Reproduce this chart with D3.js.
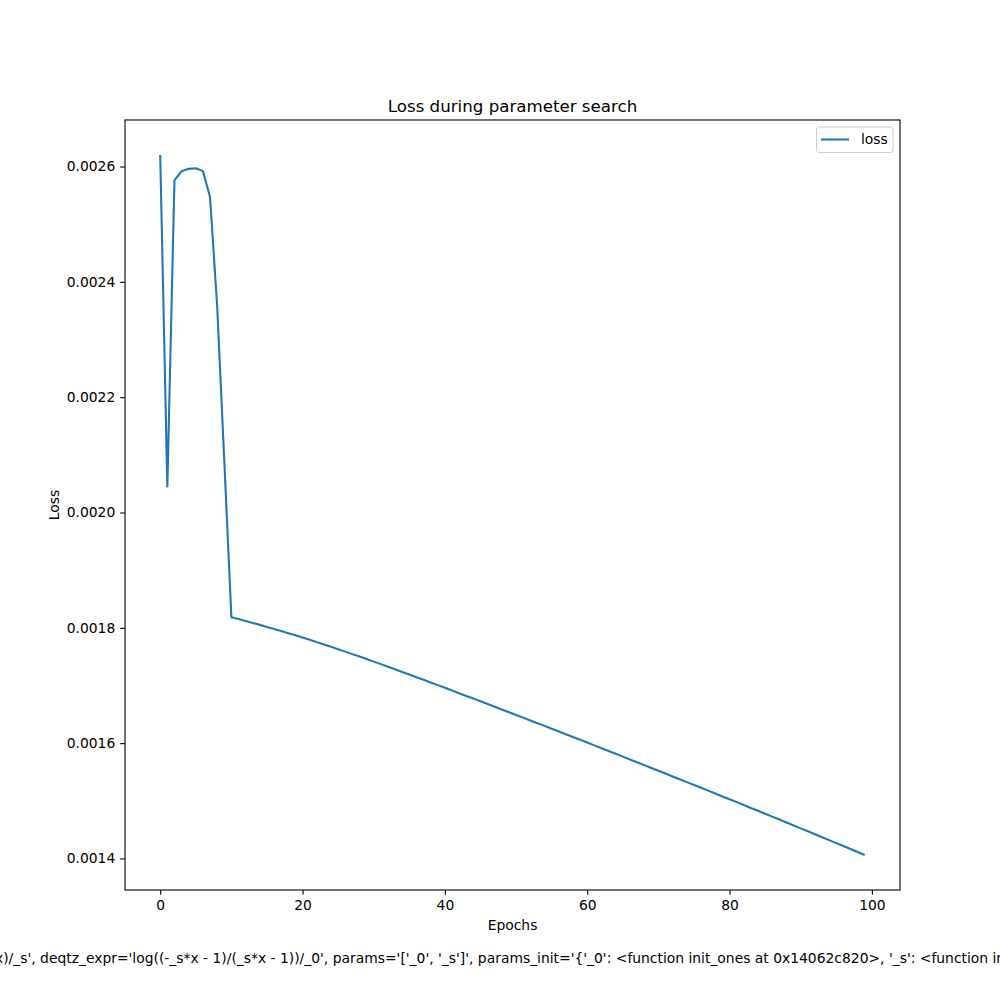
<!DOCTYPE html>
<html>
<head>
<meta charset="utf-8">
<script src="https://cdn.jsdelivr.net/npm/d3@7"></script>
<style>
  html, body { margin: 0; padding: 0; background: #fff; }
  svg { display: block; font-family: "DejaVu Sans", sans-serif; }
</style>
</head>
<body>
<svg id="chart" width="1000" height="1000"></svg>
<script>
// ---- data ----
const epochs = d3.range(0, 100);
const lossValues = [
  0.002620, 0.002045, 0.002576, 0.002592, 0.002596, 0.002597, 0.002592, 0.002547, 0.002358, 0.002090,
  0.0018184, 0.0018152, 0.0018119, 0.0018085, 0.0018051, 0.0018016, 0.0017980, 0.0017944, 0.0017907, 0.0017870,
  0.0017831, 0.0017792, 0.0017752, 0.0017711, 0.0017670, 0.0017629, 0.0017587, 0.0017544, 0.0017501, 0.0017458,
  0.0017414, 0.0017370, 0.0017325, 0.0017280, 0.0017235, 0.0017190, 0.0017144, 0.0017098, 0.0017052, 0.0017006,
  0.0016959, 0.0016913, 0.0016866, 0.0016819, 0.0016773, 0.0016726, 0.0016679, 0.0016631, 0.0016584, 0.0016537,
  0.0016489, 0.0016442, 0.0016394, 0.0016346, 0.0016299, 0.0016251, 0.0016203, 0.0016155, 0.0016106, 0.0016058,
  0.0016010, 0.0015961, 0.0015912, 0.0015864, 0.0015815, 0.0015766, 0.0015717, 0.0015668, 0.0015619, 0.0015570,
  0.0015521, 0.0015472, 0.0015422, 0.0015373, 0.0015324, 0.0015274, 0.0015225, 0.0015176, 0.0015126, 0.0015076,
  0.0015027, 0.0014977, 0.0014927, 0.0014876, 0.0014826, 0.0014776, 0.0014725, 0.0014675, 0.0014624, 0.0014573,
  0.0014522, 0.0014471, 0.0014420, 0.0014369, 0.0014318, 0.0014266, 0.0014215, 0.0014163, 0.0014111, 0.0014060
];
const xTicks = [0, 20, 40, 60, 80, 100];
const yTicks = [0.0014, 0.0016, 0.0018, 0.0020, 0.0022, 0.0024, 0.0026];
const seriesName = "loss";
const titleText = "Loss during parameter search";
const xLabel = "Epochs";
const yLabel = "Loss";
const footText = "x)/_s', deqtz_expr='log((-_s*x - 1)/(_s*x - 1))/_0', params='['_0', '_s']', params_init='{'_0': <function init_ones at 0x14062c820>, '_s': <function in";

// ---- layout ----
const L = 125, R = 900, T = 120, B = 890;
const svg = d3.select("#chart");
const color = "#1f77b4";
const fs = 13.89;

const xMin = d3.min(epochs), xMax = d3.max(epochs);
const xPad = (xMax - xMin) * 0.05;
const yMin = d3.min(lossValues), yMax = d3.max(lossValues);
const yPad = (yMax - yMin) * 0.05;

const x = d3.scaleLinear().domain([xMin - xPad, xMax + xPad]).range([L, R]);
const y = d3.scaleLinear().domain([yMin - yPad, yMax + yPad]).range([B, T]);

// line
const line = d3.line().x((d, i) => x(epochs[i])).y(d => y(d));
svg.append("path")
  .datum(lossValues)
  .attr("d", line)
  .attr("fill", "none")
  .attr("stroke", color)
  .attr("stroke-width", 2.08)
  .attr("stroke-linejoin", "round")
  .attr("stroke-linecap", "butt");

// axes
const xAxis = d3.axisBottom(x).tickValues(xTicks).tickFormat(d3.format("d")).tickSize(4.86).tickPadding(4.86);
const yAxis = d3.axisLeft(y).tickValues(yTicks).tickFormat(d3.format(".4f")).tickSize(4.86).tickPadding(4.86);

const gx = svg.append("g").attr("transform", `translate(0,${B})`).call(xAxis);
const gy = svg.append("g").attr("transform", `translate(${L},0)`).call(yAxis);
[gx, gy].forEach(g => {
  g.select(".domain").remove();
  g.selectAll(".tick line").attr("stroke", "#000").attr("stroke-width", 1.1);
  g.selectAll(".tick text").attr("fill", "#000").style("font-size", fs + "px").style("font-family", "DejaVu Sans");
});
gx.selectAll(".tick text").attr("dy", "0.71em");

// frame
svg.append("rect")
  .attr("x", L).attr("y", T).attr("width", R - L).attr("height", B - T)
  .attr("fill", "none").attr("stroke", "#000").attr("stroke-width", 1.1);

// title & labels
svg.append("text").attr("x", (L + R) / 2).attr("y", T - 8.3)
  .attr("text-anchor", "middle").style("font-size", "16.67px").text(titleText);
svg.append("text").attr("x", (L + R) / 2).attr("y", 930)
  .attr("text-anchor", "middle").style("font-size", fs + "px").text(xLabel);
svg.append("text").attr("transform", `translate(59,${(T + B) / 2}) rotate(-90)`)
  .attr("text-anchor", "middle").style("font-size", fs + "px").text(yLabel);

// legend
const lg = svg.append("g");
lg.append("rect").attr("x", 816.5).attr("y", 127).attr("width", 76.5).attr("height", 25.5)
  .attr("rx", 2.8).attr("fill", "#fff").attr("fill-opacity", 0.8)
  .attr("stroke", "#ccc").attr("stroke-width", 1);
lg.append("line").attr("x1", 821).attr("x2", 849).attr("y1", 139.5).attr("y2", 139.5)
  .attr("stroke", color).attr("stroke-width", 2.08);
lg.append("text").attr("x", 861).attr("y", 144.3).style("font-size", fs + "px").text(seriesName);

// bottom footnote text
svg.append("text").attr("x", -5).attr("y", 963).style("font-size", fs + "px").text(footText);
</script>
</body>
</html>
